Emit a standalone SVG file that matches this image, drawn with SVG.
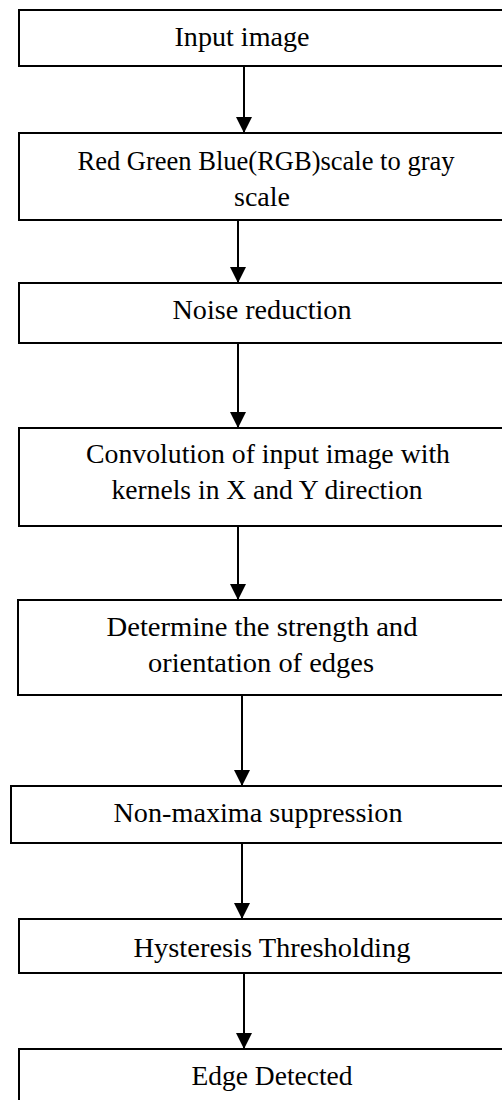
<svg xmlns="http://www.w3.org/2000/svg" width="502" height="1100" viewBox="0 0 502 1100">
<style>
.box{fill:#fff;stroke:#000;stroke-width:2}
.lbl{font-family:"Liberation Serif","Times New Roman",serif;font-size:27px;fill:#000;text-anchor:middle}
.con{stroke:#000;stroke-width:2;fill:none}
</style>
<defs>
<marker id="ah" markerUnits="userSpaceOnUse" markerWidth="16" markerHeight="16" viewBox="0 0 14 14" refX="14" refY="7" orient="auto">
<path d="M0,0 L14,7 L0,14 Z" fill="#000"/>
</marker>
</defs>
<rect width="502" height="1100" fill="#fff"/>
<g id="n1"><rect class="box" x="19" y="10" width="500" height="56"/><text class="lbl" x="242" y="46" textLength="135" lengthAdjust="spacingAndGlyphs">Input image</text></g>
<g id="n2"><rect class="box" x="19" y="133" width="500" height="87"/><text class="lbl" x="266" y="170" textLength="377" lengthAdjust="spacingAndGlyphs">Red Green Blue(RGB)scale to gray</text><text class="lbl" x="262" y="206" textLength="56" lengthAdjust="spacingAndGlyphs">scale</text></g>
<g id="n3"><rect class="box" x="19" y="283" width="500" height="60"/><text class="lbl" x="262" y="319" textLength="179" lengthAdjust="spacingAndGlyphs">Noise reduction</text></g>
<g id="n4"><rect class="box" x="19" y="428" width="500" height="98"/><text class="lbl" x="268" y="463" textLength="364" lengthAdjust="spacingAndGlyphs">Convolution of input image with</text><text class="lbl" x="267" y="499" textLength="311" lengthAdjust="spacingAndGlyphs">kernels in X and Y direction</text></g>
<g id="n5"><rect class="box" x="18" y="600" width="500" height="95"/><text class="lbl" x="262" y="636" textLength="311" lengthAdjust="spacingAndGlyphs">Determine the strength and</text><text class="lbl" x="261" y="672" textLength="226" lengthAdjust="spacingAndGlyphs">orientation of edges</text></g>
<g id="n6"><rect class="box" x="11" y="786" width="508" height="57"/><text class="lbl" x="258" y="822" textLength="289" lengthAdjust="spacingAndGlyphs">Non-maxima suppression</text></g>
<g id="n7"><rect class="box" x="19" y="919" width="500" height="54"/><text class="lbl" x="272" y="957" textLength="277" lengthAdjust="spacingAndGlyphs">Hysteresis Thresholding</text></g>
<g id="n8"><rect class="box" x="19" y="1049" width="500" height="70"/><text class="lbl" x="272" y="1085" textLength="161" lengthAdjust="spacingAndGlyphs">Edge Detected</text></g>
<g id="connectors">
<path class="con" d="M244,66 L244,133" marker-end="url(#ah)"/>
<path class="con" d="M238,220 L238,283" marker-end="url(#ah)"/>
<path class="con" d="M238,343 L238,428" marker-end="url(#ah)"/>
<path class="con" d="M238,526 L238,600" marker-end="url(#ah)"/>
<path class="con" d="M242,695 L242,786" marker-end="url(#ah)"/>
<path class="con" d="M242,843 L242,919" marker-end="url(#ah)"/>
<path class="con" d="M244,973 L244,1049" marker-end="url(#ah)"/>
</g>
</svg>
